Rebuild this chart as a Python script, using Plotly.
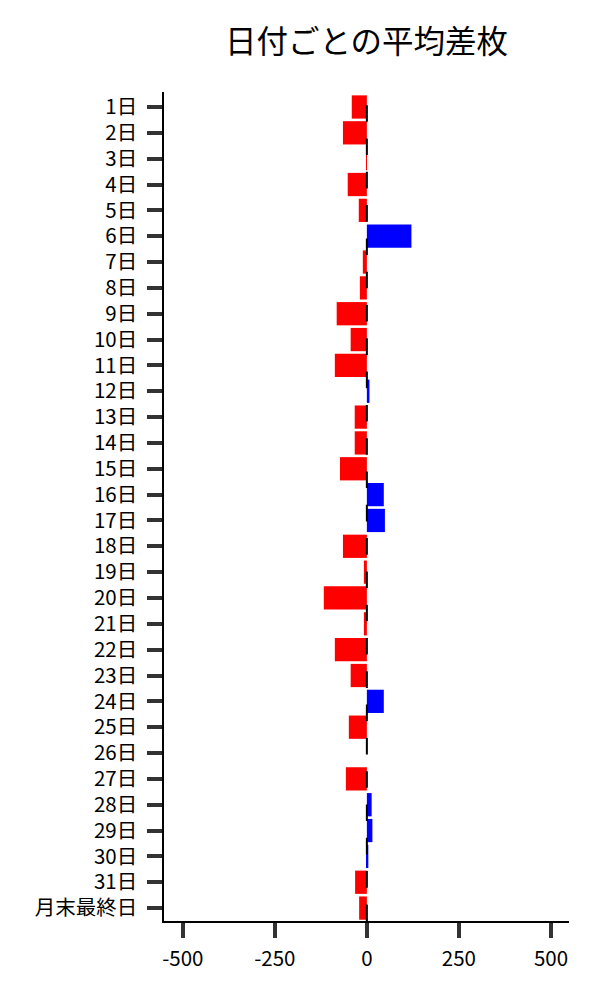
import plotly.graph_objects as go

categories = [f"{i}日" for i in range(1, 32)] + ["月末最終日"]
values = [-41, -65, -2, -52, -22, 121, -11, -19, -82, -44, -87, 7, -33, -33, -73,
          46, 49, -65, -8, -117, -8, -87, -44, 46, -49, 0, -57, 13, 15, 4, -32, -21]
x_ticks = [-500, -250, 0, 250, 500]
title_text = "日付ごとの平均差枚"

colors = ["#0000FF" if v > 0 else "#FF0000" for v in values]

FONT = "Noto Sans CJK JP"

fig = go.Figure(go.Bar(
    x=values, y=categories, orientation="h",
    marker=dict(color=colors, line=dict(width=0)),
))

fig.add_shape(type="line", xref="x", yref="paper", x0=0, x1=0, y0=0, y1=1,
              line=dict(color="black", width=2, dash="16.6px,16.7px"), layer="above")

fig.update_layout(
    width=600, height=1000,
    margin=dict(l=156, r=39, t=84, b=87),
    paper_bgcolor="white", plot_bgcolor="white",
    bargap=0.1,
    showlegend=False,
    font=dict(family=FONT, size=20, color="black"),
    title=dict(text=title_text, x=0.5, xref="paper", xanchor="center",
               y=1 - 34 / 1000, yref="container", yanchor="middle",
               font=dict(family=FONT, size=31.5, color="black")),
    xaxis=dict(range=[-551, 549], tickvals=x_ticks, ticktext=[str(t) for t in x_ticks],
               showgrid=False, zeroline=False, showline=True, linecolor="black", linewidth=1.5,
               ticks="outside", ticklen=15, tickwidth=4, tickcolor="#333333",
               ticklabelstandoff=4, tickfont=dict(family=FONT, size=20.5, color="black")),
    yaxis=dict(range=[31.5, -0.58], showgrid=False, zeroline=False, showline=True,
               linecolor="black", linewidth=1.5,
               ticks="outside", ticklen=15, tickwidth=4, tickcolor="#333333",
               ticklabelstandoff=6, tickfont=dict(family=FONT, size=20.5, color="black")),
)

fig.write_html("out.html")
